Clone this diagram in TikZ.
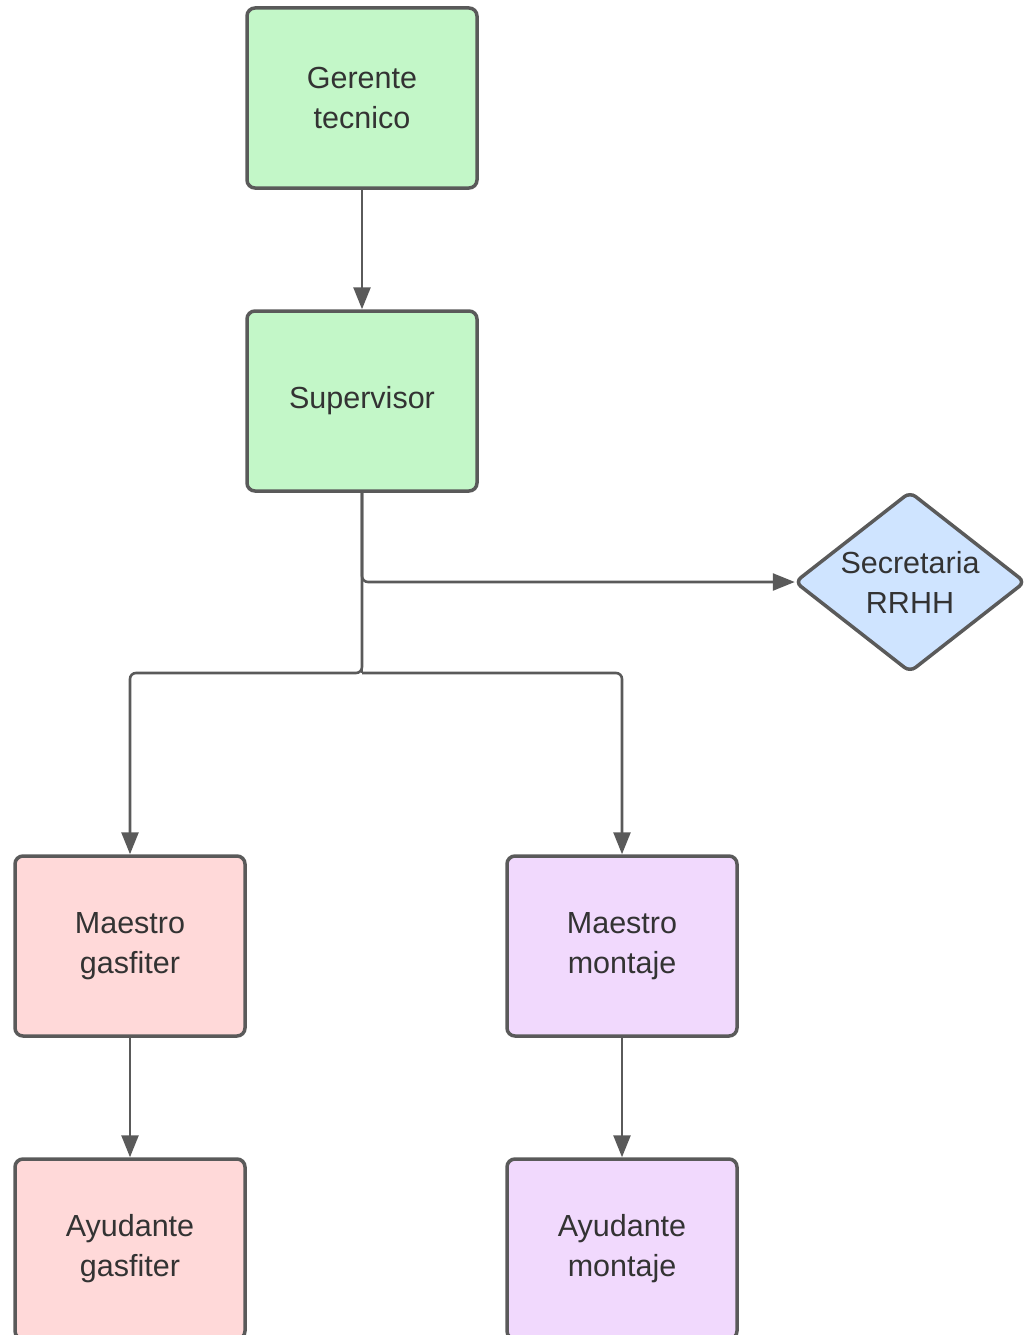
\documentclass[tikz,border=0pt]{standalone}
\usepackage{fontspec}
\setmainfont{Liberation Sans}
\usetikzlibrary{shapes.geometric,arrows.meta}
\definecolor{edge}{HTML}{5A5A5A}
\definecolor{txt}{HTML}{333333}
\definecolor{fgreen}{HTML}{C3F7C8}
\definecolor{fblue}{HTML}{CFE4FF}
\definecolor{fpink}{HTML}{FFD9D9}
\definecolor{fpurple}{HTML}{F1D9FD}
\tikzset{
  box/.style={draw=edge, line width=3.5pt, rounded corners=8pt, minimum width=230pt, minimum height=180pt, align=center, text=txt, font=\fontsize{30.5}{40}\selectfont, inner sep=0pt},
  dia/.style={diamond, draw=edge, line width=3.5pt, rounded corners=7pt, minimum width=231pt, minimum height=181pt, inner sep=0pt, fill=fblue},
  lbl/.style={align=center, text=txt, font=\fontsize{30.5}{40}\selectfont, inner sep=0pt},
  conn/.style={draw=edge, line width=2.6pt, rounded corners=6pt, -{Triangle[length=22pt,width=17pt]}},
  link/.style={draw=edge, line width=2.6pt, rounded corners=6pt}
}
\begin{document}
\begin{tikzpicture}[x=1pt,y=-1pt]
\useasboundingbox (0,0) rectangle (1024,1335);
\clip (0,0) rectangle (1024,1335);
\node[box, fill=fgreen] (ger) at (362,98) {Gerente\\tecnico};
\node[box, fill=fgreen] (sup) at (362,401) {Supervisor};
\node[dia] (sec) at (910,582) {};
\node[lbl] (sectext) at (sec.center) {Secretaria\\RRHH};
\node[box, fill=fpink] (mg) at (130,946) {Maestro\\gasfiter};
\node[box, fill=fpurple] (mm) at (622,946) {Maestro\\montaje};
\node[box, fill=fpink] (ag) at (130,1249) {Ayudante\\gasfiter};
\node[box, fill=fpurple] (am) at (622,1249) {Ayudante\\montaje};
\coordinate (j) at (362,673);
\draw[conn] (ger.south) -- (sup.north);
\draw[conn] (sup.south) |- ([xshift=2pt]sec.west);
\draw[link] (sup.south) -- (j);
\draw[conn] (sup.south) -- (j) -| (mg.north);
\draw[conn] (j) -| (mm.north);
\draw[conn] (mg.south) -- (ag.north);
\draw[conn] (mm.south) -- (am.north);
\end{tikzpicture}
\end{document}
